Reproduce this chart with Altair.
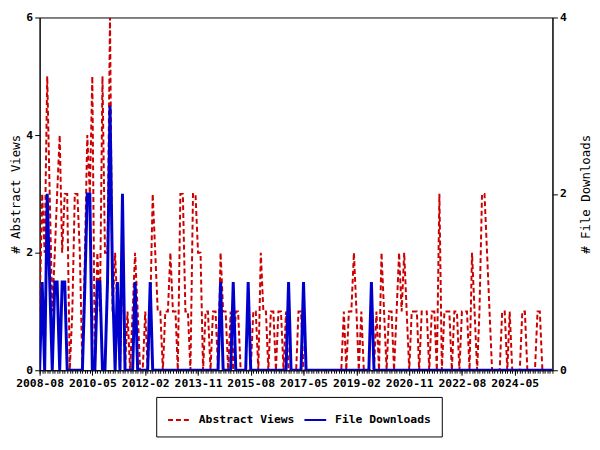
import altair as alt
import pandas as pd

# monthly values, first month 2008-08
views = [
    1, 3, 2, 5, 3, 1, 2, 3, 4, 2,
    3, 3, 0, 1, 3, 3, 2, 0, 2, 4,
    3, 5, 0, 2, 1, 5, 2, 2, 6, 1,
    2, 1, 0, 2, 0, 1, 0, 1, 2, 1,
    0, 0, 1, 0, 1, 3, 2, 1, 1, 0,
    1, 1, 2, 1, 1, 0, 3, 3, 1, 1,
    0, 3, 3, 2, 2, 0, 1, 1, 0, 1,
    1, 0, 2, 1, 1, 0, 1, 0, 1, 1,
    0, 0, 0, 0, 0, 1, 1, 0, 2, 1,
    1, 0, 1, 1, 0, 1, 1, 0, 1, 0,
    0, 0, 0, 1, 1, 0, 0, 0, 0, 0,
    0, 0, 0, 0, 0, 0, 0, 0, 0, 0,
    0, 1, 0, 1, 1, 2, 1, 0, 1, 0,
    0, 0, 0, 0, 1, 0, 2, 1, 0, 1,
    1, 0, 1, 2, 1, 2, 1, 0, 1, 1,
    1, 0, 1, 1, 1, 0, 1, 1, 0, 3,
    0, 1, 1, 1, 0, 1, 1, 0, 1, 1,
    1, 0, 2, 1, 0, 1, 3, 3, 2, 1,
    0, 0, 0, 0, 1, 1, 0, 1, 0, 0,
    0, 0, 1, 1, 0, 0, 0, 0, 1, 1,
    0, 0, 0, 0, 0,
]
downloads = [
    0, 1, 0, 2, 1, 0, 1, 1, 0, 1,
    1, 0, 0, 0, 0, 0, 0, 0, 1, 2,
    2, 0, 0, 1, 1, 0, 0, 1, 3, 1,
    0, 1, 0, 2, 0, 0, 0, 0, 1, 0,
    0, 0, 0, 0, 1, 0, 0, 0, 0, 0,
    0, 0, 0, 0, 0, 0, 0, 0, 0, 0,
    0, 0, 0, 0, 0, 0, 0, 0, 0, 0,
    0, 0, 1, 0, 0, 0, 0, 1, 0, 0,
    0, 0, 0, 1, 0, 0, 0, 0, 0, 0,
    0, 0, 0, 0, 0, 0, 0, 0, 0, 1,
    0, 0, 0, 0, 0, 1, 0, 0, 0, 0,
    0, 0, 0, 0, 0, 0, 0, 0, 0, 0,
    0, 0, 0, 0, 0, 0, 0, 0, 0, 0,
    0, 0, 1, 0, 0, 0, 0, 0, 0, 0,
    0, 0, 0, 0, 0, 0, 0, 0, 0, 0,
    0, 0, 0, 0, 0, 0, 0, 0, 0, 0,
    0, 0, 0, 0, 0, 0, 0, 0, 0, 0,
    0, 0, 0, 0, 0, 0, 0, 0, 0, 0,
    0, 0, 0, 0, 0, 0, 0, 0, 0, 0,
    0, 0, 0, 0, 0, 0, 0, 0, 0, 0,
    0, 0, 0, 0, 0,
]
tick_labels = ["2008-08", "2010-05", "2012-02", "2013-11", "2015-08",
               "2017-05", "2019-02", "2020-11", "2022-08", "2024-05"]
series = ["Abstract Views", "File Downloads"]
colors = ["#cc0000", "#0000cc"]

months = pd.date_range("2008-08-01", periods=len(views), freq="MS")
dates = [d.strftime("%Y-%m-%dT00:00:00") for d in months]

df_v = pd.DataFrame({"date": dates, "value": views, "series": series[0]})
df_d = pd.DataFrame({"date": dates, "value": downloads, "series": series[1]})

major_vals = [alt.DateTime(year=int(s[:4]), month=int(s[5:]), date=1) for s in tick_labels]

LF = "DejaVu Sans Mono"
color_enc = alt.Color("series:N", scale=alt.Scale(domain=series, range=colors),
                      legend=alt.Legend(title=None))
dash_enc = alt.StrokeDash("series:N", scale=alt.Scale(domain=series, range=[[5, 3], [1, 0]]),
                          legend=alt.Legend(title=None))

xscale = alt.Scale(nice=False)

red = alt.Chart(df_v).mark_line(strokeWidth=2, clip=True).encode(
    x=alt.X("date:T", scale=xscale,
            axis=alt.Axis(orient="bottom", values=major_vals, format="%Y-%m", title=None,
                          grid=False, tickSize=5, labelPadding=2, labelFlush=False,
                          labelOverlap=False,
                          labelFont=LF, labelFontWeight="bold", labelFontSize=11.5,
                          labelColor="black", tickColor="black", domainColor="black")),
    y=alt.Y("value:Q", scale=alt.Scale(domain=[0, 6], nice=False, zero=True),
            axis=alt.Axis(orient="left", values=[0, 2, 4, 6], title="# Abstract Views",
                          grid=False, tickSize=5, labelPadding=2,
                          labelFont=LF, labelFontWeight="bold", labelFontSize=11.5,
                          labelColor="black", tickColor="black", domainColor="black",
                          titleFont=LF, titleFontWeight="normal", titleFontSize=12.5,
                          titleColor="black", titlePadding=3)),
    color=color_enc,
    strokeDash=dash_enc,
)

blue = alt.Chart(df_d).mark_line(strokeWidth=3, clip=True).encode(
    x=alt.X("date:T", scale=xscale,
            axis=alt.Axis(orient="bottom", tickCount={"interval": "month", "step": 1},
                          labels=False, domain=False, title=None, grid=False, tickSize=3,
                          tickColor="black")),
    y=alt.Y("value:Q", scale=alt.Scale(domain=[0, 4], nice=False, zero=True),
            axis=alt.Axis(orient="right", values=[0, 2, 4], title="# File Downloads",
                          grid=False, tickSize=5, labelPadding=2,
                          labelFont=LF, labelFontWeight="bold", labelFontSize=11.5,
                          labelColor="black", tickColor="black", domainColor="black",
                          titleFont=LF, titleFontWeight="normal", titleFontSize=12.5,
                          titleColor="black", titlePadding=14, titleAngle=270,
                          titleBaseline="top")),
    color=color_enc,
    strokeDash=dash_enc,
)

chart = alt.layer(red, blue).resolve_scale(
    y="independent"
).resolve_axis(
    x="independent", y="independent"
).properties(
    width=519, height=357,
    autosize=alt.AutoSizeParams(type="none"),
    padding={"left": 32, "top": 7, "right": 40, "bottom": 70},
).configure_view(
    stroke="black", strokeWidth=1
).configure_legend(
    orient="none", legendX=118, legendY=384, direction="horizontal",
    strokeColor="black", strokeWidth=1, padding=11, fillColor="white",
    symbolType="stroke", symbolSize=484, symbolStrokeWidth=2,
    labelFont=LF, labelFontWeight="bold", labelFontSize=11.5, labelColor="black",
    labelOffset=8, columnPadding=6, cornerRadius=0,
)

chart.save("out.html", embed_options={"renderer": "svg", "actions": False})
